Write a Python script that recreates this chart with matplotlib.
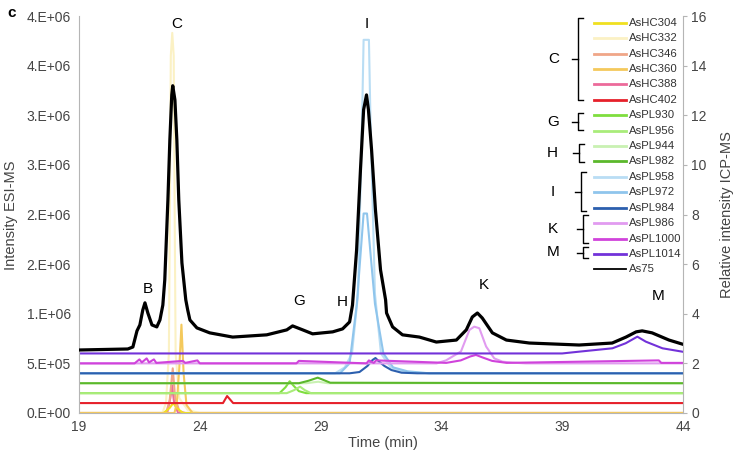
import matplotlib
matplotlib.use("Agg")
import matplotlib.pyplot as plt
from matplotlib.lines import Line2D

plt.rcParams['font.family'] = ['Liberation Sans', 'DejaVu Sans']

# ---------------- data ----------------
names = ["AsHC304", "AsHC332", "AsHC346", "AsHC360", "AsHC388", "AsHC402",
         "AsPL930", "AsPL956", "AsPL944", "AsPL982",
         "AsPL958", "AsPL972", "AsPL984",
         "AsPL986", "AsPL1000", "AsPL1014", "As75"]
colors = ["#f0e020", "#fbf1c4", "#f0a688", "#f4c95c", "#ec6a9a", "#e6202a",
          "#7fde3e", "#a9ec7a", "#c9f1b2", "#5bb82b",
          "#b9ddf4", "#8fc5ec", "#2c5fae",
          "#e19bf0", "#d043db", "#7232d9", "#000000"]

# ESI-MS traces (time in min, intensity in counts, as read with their offsets)
t_AsHC304 = [19, 22.5, 22.75, 22.9, 23.05, 23.3, 44]
y_AsHC304 = [0, 0, 0.05e6, 0.1e6, 0.05e6, 0, 0]
t_AsHC332 = [19, 22.45, 22.6, 22.72, 22.76, 22.8, 22.86, 22.92, 22.96, 23.0, 23.15, 23.5, 24.0, 44]
y_AsHC332 = [0, 0, 0.1e6, 0.6e6, 2.0e6, 3.6e6, 3.83e6, 3.6e6, 2.0e6, 0.6e6, 0.15e6, 0.03e6, 0, 0]
t_AsHC346 = [19, 22.6, 22.75, 22.88, 22.98, 23.15, 23.4, 44]
y_AsHC346 = [0, 0, 0.12e6, 0.45e6, 0.15e6, 0.02e6, 0, 0]
t_AsHC360 = [19, 22.95, 23.05, 23.15, 23.24, 23.33, 23.45, 23.7, 44]
y_AsHC360 = [0, 0, 0.1e6, 0.45e6, 0.89e6, 0.4e6, 0.08e6, 0, 0]
t_AsHC388 = [19, 22.65, 22.78, 22.85, 22.93, 23.1, 44]
y_AsHC388 = [0, 0, 0.15e6, 0.28e6, 0.12e6, 0, 0]
t_AsHC402 = [19, 24.96, 25.13, 25.38, 44]
y_AsHC402 = [1e5, 1e5, 1.71e5, 1e5, 1e5]
t_AsPL930 = [19, 27.3, 27.55, 27.72, 27.9, 28.1, 28.4, 44]
y_AsPL930 = [2e5, 2e5, 2.6e5, 3.2e5, 2.7e5, 2.2e5, 2e5, 2e5]
t_AsPL956 = [19, 27.6, 27.9, 28.15, 28.35, 28.6, 44]
y_AsPL956 = [2e5, 2e5, 2.3e5, 2.65e5, 2.3e5, 2e5, 2e5]
t_AsPL944 = [19, 28.4, 28.9, 29.3, 44]
y_AsPL944 = [3e5, 3e5, 3.15e5, 3e5, 3e5]
t_AsPL982 = [19, 28.1, 28.5, 28.88, 29.1, 29.4, 44]
y_AsPL982 = [3e5, 3e5, 3.25e5, 3.56e5, 3.35e5, 3.05e5, 3e5]
t_AsPL958 = [19, 29.6, 30.0, 30.3, 30.55, 30.72, 30.78, 31.0, 31.06, 31.25, 31.5, 31.9, 32.5, 33.5, 44]
y_AsPL958 = [4e5, 4e5, 4.6e5, 6e5, 1.2e6, 3.0e6, 3.76e6, 3.76e6, 3.0e6, 1.2e6, 6e5, 4.6e5, 4.1e5, 4e5, 4e5]
t_AsPL972 = [19, 29.8, 30.2, 30.5, 30.78, 30.92, 31.25, 31.6, 32.0, 32.6, 33.5, 44]
y_AsPL972 = [4e5, 4e5, 5e5, 1.1e6, 2.01e6, 2.01e6, 1.1e6, 6e5, 4.6e5, 4.2e5, 4e5, 4e5]
t_AsPL984 = [19, 30.2, 30.61, 30.94, 31.15, 31.27, 31.44, 31.64, 31.93, 32.35, 33.0, 44]
y_AsPL984 = [4e5, 4e5, 4.13e5, 4.74e5, 5.34e5, 5.54e5, 5.14e5, 4.74e5, 4.33e5, 4.06e5, 4e5, 4e5]
t_AsPL986 = [19, 33.8, 34.19, 34.81, 35.16, 35.36, 35.57, 35.85, 36.19, 36.53, 36.95, 37.5, 44]
y_AsPL986 = [5e5, 5e5, 5.3e5, 6.2e5, 8.37e5, 8.7e5, 8.54e5, 6.7e5, 5.5e5, 5.17e5, 5.07e5, 5e5, 5e5]
t_AsPL1000 = [19, 21.3, 21.5, 21.6, 21.8, 21.9, 22.1, 22.2, 23.3, 23.4, 23.9, 24.0, 28.0, 28.1,
              30.9, 31.0, 31.2, 31.3, 34.2, 34.8, 35.2, 35.43, 35.7, 36.1, 36.7, 43.0, 43.1, 44]
y_AsPL1000 = [5e5, 5e5, 5.4e5, 5.1e5, 5.5e5, 5.1e5, 5.4e5, 5.05e5, 5.25e5, 5.05e5, 5.3e5, 5e5, 5e5, 5.25e5,
              5e5, 5.3e5, 5.05e5, 5.3e5, 5.05e5, 5.3e5, 5.7e5, 5.85e5, 5.6e5, 5.25e5, 5.05e5, 5.3e5, 5.05e5, 5.05e5]
t_AsPL1014 = [19, 39.0, 39.7, 41.08, 41.63, 42.11, 42.46, 43.15, 43.97]
y_AsPL1014 = [6e5, 6e5, 6.18e5, 6.52e5, 7.03e5, 7.69e5, 7.19e5, 6.52e5, 6.18e5]

# ICP-MS As75 trace (relative intensity)
t_As75 = [19.04, 21.02, 21.23, 21.40, 21.52, 21.64, 21.73, 21.85, 22.02, 22.22, 22.35, 22.47, 22.55,
          22.68, 22.76, 22.84, 22.88, 22.97, 23.05, 23.13, 23.26, 23.42, 23.50, 23.59, 23.88, 24.41,
          25.36, 26.77, 27.60, 27.84, 28.26, 28.67, 29.08, 29.50, 29.91, 30.20, 30.32, 30.49, 30.65,
          30.78, 30.90, 30.98, 31.11, 31.27, 31.48, 31.69, 31.73, 31.98, 32.39, 33.09, 33.79, 34.62,
          35.03, 35.28, 35.49, 35.69, 36.11, 36.69, 37.64, 39.70, 41.07, 41.64, 42.06, 42.31, 42.72,
          43.42, 43.96]
y_As75 = [2.54, 2.58, 2.66, 3.31, 3.55, 4.15, 4.44, 4.03, 3.55, 3.47, 3.75, 4.35, 5.36,
          8.59, 11.0, 12.82, 13.19, 12.62, 11.0, 8.59, 6.05, 4.56, 4.15, 3.75, 3.43, 3.23,
          3.06, 3.15, 3.35, 3.51, 3.35, 3.19, 3.23, 3.27, 3.39, 3.67, 4.35, 6.57, 9.80,
          12.22, 12.82, 12.22, 10.6, 8.19, 5.77, 4.56, 4.03, 3.47, 3.15, 3.06, 2.86, 2.94,
          3.35, 3.87, 4.03, 3.83, 3.23, 2.94, 2.82, 2.74, 2.82, 3.06, 3.27, 3.31, 3.23,
          2.94, 2.78]

traces = {
    "AsHC304": (t_AsHC304, y_AsHC304), "AsHC332": (t_AsHC332, y_AsHC332),
    "AsHC346": (t_AsHC346, y_AsHC346), "AsHC360": (t_AsHC360, y_AsHC360),
    "AsHC388": (t_AsHC388, y_AsHC388), "AsHC402": (t_AsHC402, y_AsHC402),
    "AsPL930": (t_AsPL930, y_AsPL930), "AsPL956": (t_AsPL956, y_AsPL956),
    "AsPL944": (t_AsPL944, y_AsPL944), "AsPL982": (t_AsPL982, y_AsPL982),
    "AsPL958": (t_AsPL958, y_AsPL958), "AsPL972": (t_AsPL972, y_AsPL972),
    "AsPL984": (t_AsPL984, y_AsPL984), "AsPL986": (t_AsPL986, y_AsPL986),
    "AsPL1000": (t_AsPL1000, y_AsPL1000), "AsPL1014": (t_AsPL1014, y_AsPL1014),
}

x_ticks = [19, 24, 29, 34, 39, 44]
left_ticks = [0, 5e5, 1e6, 1.5e6, 2e6, 2.5e6, 3e6, 3.5e6, 4e6]
left_tick_labels = ["0.E+00", "5.E+05", "1.E+06", "2.E+06", "2.E+06", "3.E+06", "3.E+06", "4.E+06", "4.E+06"]
right_ticks = [0, 2, 4, 6, 8, 10, 12, 14, 16]

peak_labels = ["B", "C", "G", "H", "I", "K", "M"]
groups = [("C", 0, 5), ("G", 6, 7), ("H", 8, 9), ("I", 10, 12), ("K", 13, 14), ("M", 15, 15)]

# ---------------- figure ----------------
W, H = 739, 457
fig = plt.figure(figsize=(W / 100, H / 100), dpi=100)
ax = fig.add_axes([79 / W, 1 - 413 / H, 604 / W, 397 / H])
ax2 = ax.twinx()

col = dict(zip(names, colors))
draw_order = ["AsHC388", "AsHC346", "AsHC332", "AsHC304", "AsHC360", "AsHC402",
              "AsPL930", "AsPL956", "AsPL944", "AsPL982",
              "AsPL958", "AsPL972", "AsPL984", "AsPL986", "AsPL1000", "AsPL1014"]
for n in draw_order:
    t, y = traces[n]
    ax.plot(t, y, color=col[n], lw=1.5, solid_joinstyle='round')
ax2.plot(t_As75, y_As75, color="black", lw=2.3, solid_joinstyle='round')

ax.set_xlim(19, 44)
ax.set_ylim(0, 4e6)
ax2.set_ylim(0, 16)
ax.set_xticks(x_ticks)
ax.set_xticklabels([str(v) for v in x_ticks])
ax.set_yticks(left_ticks)
ax.set_yticklabels(left_tick_labels)
ax2.set_yticks(right_ticks)
ax2.set_yticklabels([str(v) for v in right_ticks])

grey = "#b5b5b5"
tick_col = "#444444"
for a in (ax, ax2):
    for s in a.spines.values():
        s.set_visible(False)
ax.spines['left'].set_visible(True)
ax.spines['left'].set_color(grey)
ax.spines['bottom'].set_visible(True)
ax.spines['bottom'].set_color(grey)
ax2.spines['right'].set_visible(True)
ax2.spines['right'].set_color(grey)
ax.tick_params(axis='x', length=0, pad=5, labelsize=10, labelcolor=tick_col)
ax.tick_params(axis='y', length=0, pad=6, labelsize=10, labelcolor=tick_col)
ax2.tick_params(axis='y', length=3, width=0.8, color=grey, pad=3, labelsize=10, labelcolor=tick_col)

# axis titles at measured pixel centres
fig.text(383 / W, 1 - 443 / H, "Time (min)", fontsize=10.5, color=tick_col, ha='center', va='center')
fig.text(11 / W, 1 - 215 / H, "Intensity ESI-MS", fontsize=10.5, color=tick_col,
         ha='center', va='center', rotation=90)
fig.text(727 / W, 1 - 215 / H, "Relative intensity ICP-MS", fontsize=10.5, color=tick_col,
         ha='center', va='center', rotation=90)

# peak letters (pixel positions)
peak_pos = [(148, 289), (177, 24), (299, 301), (342, 302), (367, 24), (484, 285), (658, 296)]
for lab, (px, py) in zip(peak_labels, peak_pos):
    fig.text(px / W, 1 - py / H, lab, fontsize=11, ha='center', va='center')

fig.text(12 / W, 1 - 13 / H, "c", fontsize=11, fontweight='bold', ha='center', va='center')

# legend drawn manually
row0, dy = 22.7, 15.42
for i, (n, c) in enumerate(zip(names, colors)):
    yy = 1 - (row0 + i * dy) / H
    lw = 1.3 if n == "As75" else 2.0
    fig.add_artist(Line2D([594 / W, 626 / W], [yy, yy], color=c, lw=lw, transform=fig.transFigure))
    fig.text(629 / W, yy, n, fontsize=8.2, color="#333333", ha='left', va='center')

# brackets
br_geom = {"C": (578, 18, 100, 554), "G": (578, 113, 130, 553), "H": (579, 144, 162, 552),
           "I": (581, 172, 211, 553), "K": (583, 215, 243, 553), "M": (583, 247, 258, 553)}
for lab, i0, i1 in groups:
    bx, top, bot, lx = br_geom[lab]
    mid = (top + bot) / 2
    xs = [bx + 5, bx, bx, bx + 5]
    ys = [top, top, bot, bot]
    fig.add_artist(Line2D([x / W for x in xs], [1 - y / H for y in ys], color="black", lw=1.0,
                          transform=fig.transFigure))
    fig.add_artist(Line2D([(bx - 6) / W, bx / W], [1 - mid / H, 1 - mid / H], color="black", lw=1.0,
                          transform=fig.transFigure))
    fig.text(lx / W, 1 - mid / H, lab, fontsize=11, ha='center', va='center')

fig.savefig("out.png", dpi=100)
